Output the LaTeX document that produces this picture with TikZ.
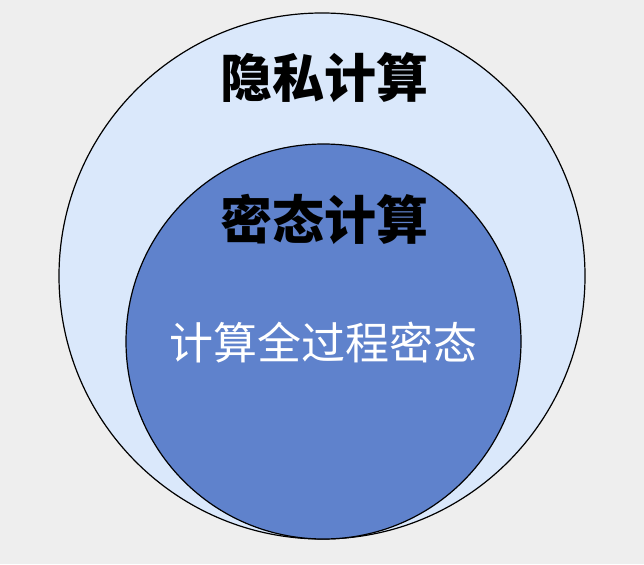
\documentclass[tikz,border=0pt]{standalone}
\usepackage{fontspec}
\newfontfamily\cjk{Noto Sans CJK SC}
\definecolor{bgc}{HTML}{EEEEEE}
\definecolor{outerc}{HTML}{DAE8FB}
\definecolor{innerc}{HTML}{5F82CC}
\begin{document}
\begin{tikzpicture}[x=1pt,y=-1pt,
  ring/.style={draw=black,line width=1.2pt},
  boldlabel/.style={font=\cjk\bfseries\fontsize{52}{52}\selectfont,text=black,inner sep=0pt},
  whitelabel/.style={font=\cjk\fontsize{44}{44}\selectfont,text=white,inner sep=0pt}]
\fill[bgc] (0,0) rectangle (644,564);
\useasboundingbox (0,0) rectangle (644,564);
\path[ring,fill=outerc] (322,276) circle[radius=263];
\path[ring,fill=innerc] (323.5,341.5) circle[radius=197.5];
\node[boldlabel] (privacy) at (324,78) {隐私计算};
\node[boldlabel] (secret) at (324,219) {密态计算};
\node[whitelabel] (whole) at (323,343) {计算全过程密态};
\end{tikzpicture}
\end{document}
